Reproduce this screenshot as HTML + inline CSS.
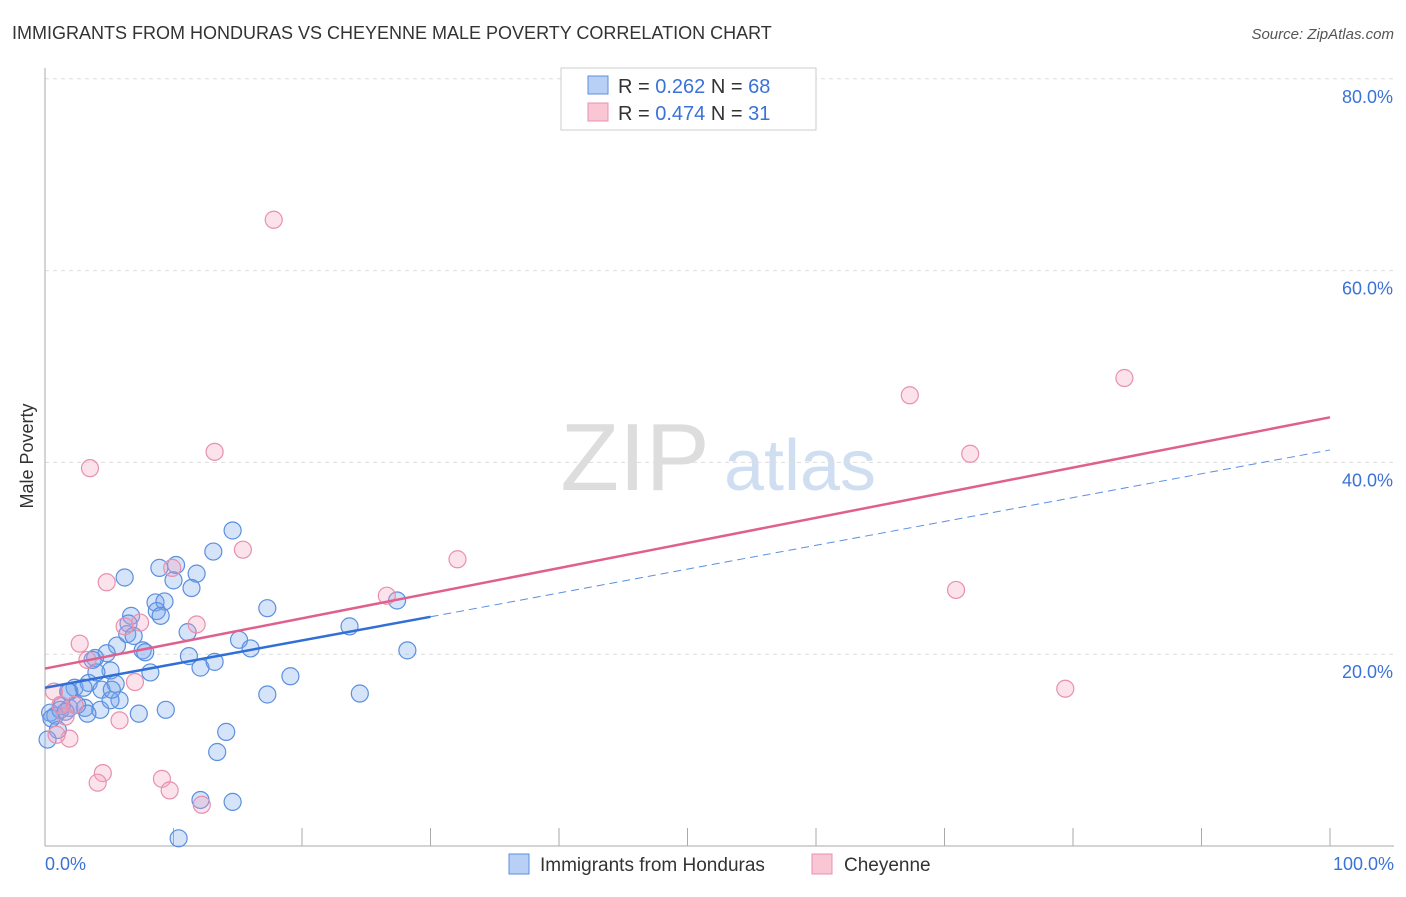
<!DOCTYPE html>
<html><head><meta charset="utf-8"><style>
body{margin:0;background:#fff;font-family:"Liberation Sans",sans-serif;}
svg text{font-family:"Liberation Sans",sans-serif;}
</style></head><body>
<svg id="chart" width="1406" height="892">
<text x="12" y="39" font-size="18" fill="#333">IMMIGRANTS FROM HONDURAS VS CHEYENNE MALE POVERTY CORRELATION CHART</text>
<text x="1394" y="39" font-size="15" fill="#555" font-style="italic" text-anchor="end">Source: ZipAtlas.com</text>
<text x="33" y="456" font-size="18" fill="#333" transform="rotate(-90 33 456)" text-anchor="middle">Male Poverty</text>
<text x="635" y="490" font-size="96" fill="#ddd" font-family="Liberation Serif" text-anchor="middle">ZIP</text>
<text x="800" y="490" font-size="72" fill="#d0def2" text-anchor="middle">atlas</text>
<g id="grid"></g><g id="pts"></g><g id="lines"></g>
<g>
<rect x="561" y="68" width="255" height="62" fill="#fff" stroke="#ccc"/>
<rect x="588" y="76" width="20" height="18" fill="#b8d0f5" stroke="#5b8fe0"/>
<rect x="588" y="103" width="20" height="18" fill="#f9c6d6" stroke="#e890ad"/>
<text x="618" y="93" font-size="20" fill="#333">R = <tspan fill="#3a72d8">0.262</tspan>   N = <tspan fill="#3a72d8">68</tspan></text>
<text x="618" y="120" font-size="20" fill="#333">R = <tspan fill="#3a72d8">0.474</tspan>   N =  <tspan fill="#3a72d8">31</tspan></text>
</g>
<g>
<rect x="509" y="854" width="20" height="20" fill="#b8d0f5" stroke="#5b8fe0"/>
<text x="540" y="871" font-size="19" fill="#333">Immigrants from Honduras</text>
<rect x="812" y="854" width="20" height="20" fill="#f9c6d6" stroke="#e890ad"/>
<text x="844" y="871" font-size="19" fill="#333">Cheyenne</text>
</g>
</svg>
<script>
const yTicks=[20,40,60,80];
const xTickLabels=["0.0%","100.0%"];
const blueX=[6.2,14.6,13.1,8.9,10.2,11.8,10.0,11.4,8.6,9.3,8.7,9.0,6.7,17.3,11.1,6.5,6.4,6.9,5.6,7.6,7.8,4.8,3.9,3.7,5.1,8.2,11.2,12.1,13.2,15.1,16.0,23.7,27.4,28.2,19.1,17.3,24.5,5.8,7.3,9.4,14.1,13.4,12.1,14.6,10.4,2.3,1.9,3.4,4.4,5.5,1.3,1.9,3.1,2.5,0.4,0.8,1.2,4.3,3.3,0.5,1.6,5.1,3.0,4.0,5.2,1.0,0.2,1.8];
const blueY=[28.0,32.9,30.7,29.0,29.3,28.4,27.7,26.9,25.4,25.5,24.5,24.0,24.0,24.8,22.3,23.2,22.1,21.9,20.9,20.4,20.2,20.1,19.6,19.4,18.3,18.1,19.8,18.6,19.2,21.5,20.6,22.9,25.6,20.4,17.7,15.8,15.9,15.2,13.8,14.2,11.9,9.8,4.8,4.6,0.8,16.5,16.1,17.0,16.3,16.9,14.6,14.4,14.4,14.7,13.9,13.6,14.2,14.2,13.8,13.3,14.0,15.2,16.5,18.1,16.3,12.1,11.1,16.1];
const pinkX=[17.8,84.0,67.3,72.0,13.2,3.5,15.4,32.1,4.8,9.9,26.6,70.9,11.8,7.4,6.2,2.7,3.3,79.4,7.0,5.8,1.9,0.9,0.7,1.2,4.5,4.1,9.1,9.7,12.2,1.6,2.3];
const pinkY=[65.3,48.8,47.0,40.9,41.1,39.4,30.9,29.9,27.5,29.0,26.1,26.7,23.1,23.3,22.9,21.1,19.4,16.4,17.1,13.1,11.2,11.6,16.1,14.7,7.6,6.6,7.0,5.8,4.3,13.5,14.7];
const blueFit=[16.5,23.9,41.3], pinkFit=[18.5,44.7];
const X=v=>45+v*12.85, Y=v=>846-v*9.59;
const NS="http://www.w3.org/2000/svg";
function mk(t,a,p){const e=document.createElementNS(NS,t);for(const k in a)e.setAttribute(k,a[k]);p.appendChild(e);return e;}
const g=document.getElementById('grid');
yTicks.forEach(t=>{
 const l=mk('line',{x1:45,x2:1394,y1:Y(t),y2:Y(t),stroke:'#ddd','stroke-dasharray':'4,4'},g);
 
 
 const tx=mk('text',{x:1393,y:Y(t)+24,'font-size':18,fill:'#3a72d8','text-anchor':'end'},g);
 tx.textContent=t.toFixed(1)+'%';
 
 
});
const ax=mk('line',{x1:45,x2:45,y1:68,y2:846,stroke:'#aaa'},g);


const bx=mk('line',{x1:45,x2:1394,y1:846,y2:846,stroke:'#aaa'},g);


for(let i=1;i<=10;i++){const tk=mk('line',{x1:X(i*10),x2:X(i*10),y1:828,y2:846,stroke:'#aaa'},g);
 
 }
xTickLabels.forEach((s,i)=>{const tx=mk('text',{x:i?1394:45,y:870,'font-size':18,fill:'#3a72d8','text-anchor':i?'end':'start'},g);tx.textContent=s;
 
 });
const p=document.getElementById('pts');
blueX.forEach((x,i)=>{const c=mk('circle',{cx:X(x),cy:Y(blueY[i]),r:8.5,fill:'rgba(120,165,235,0.3)',stroke:'#5b8fe0','stroke-width':1.2},p);
 
 });
pinkX.forEach((x,i)=>{const c=mk('circle',{cx:X(x),cy:Y(pinkY[i]),r:8.5,fill:'rgba(245,160,190,0.3)',stroke:'#e890ad','stroke-width':1.2},p);
 
 });
const L=document.getElementById('lines');
const l1=mk('line',{x1:X(0),y1:Y(blueFit[0]),x2:X(30),y2:Y(blueFit[1]),stroke:'#2f6fd6','stroke-width':2.5},L);


const l2=mk('line',{x1:X(30),y1:Y(blueFit[1]),x2:X(100),y2:Y(blueFit[2]),stroke:'#5b8fe0','stroke-width':1,'stroke-dasharray':'8,5'},L);


const l3=mk('line',{x1:X(0),y1:Y(pinkFit[0]),x2:X(100),y2:Y(pinkFit[1]),stroke:'#e0608d','stroke-width':2.5},L);


</script>
</body></html>
